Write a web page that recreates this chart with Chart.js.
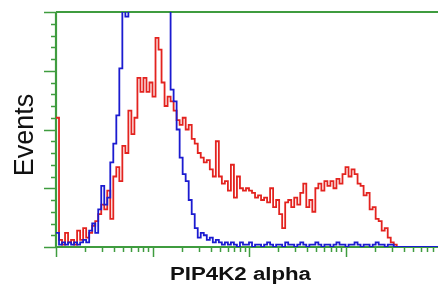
<!DOCTYPE html>
<html>
<head>
<meta charset="utf-8">
<script src="https://cdn.jsdelivr.net/npm/chart.js@4/dist/chart.umd.min.js"></script>
<style>
  html, body { margin: 0; padding: 0; background: #fff; }
  #wrap { width: 438px; height: 287px; }
</style>
</head>
<body>
<div id="wrap"><canvas id="histo" width="438" height="287"></canvas></div>
<script>
// histogram channels: 32 bins per decade on a log axis, bin i starts at 10^(i/32)
const binsPerDecade = 32;

// red = PIP4K2 alpha stained, blue = control (values in % of full scale)
const redCounts = [
  55, 3, 1, 6, 2, 3, 1, 7, 3, 8, 4, 6, 9, 11, 14, 18,
  16, 24, 12, 30, 34, 28, 43, 40, 58, 48, 55, 72, 66, 72, 66, 70,
  64, 89, 84, 70, 60, 64, 62, 58, 54, 52, 55, 50, 52, 46, 44, 40,
  38, 36, 37, 33, 30, 45, 30, 27, 28, 24, 35, 21, 30, 25, 24, 25,
  24, 23, 21, 22, 20, 21, 19, 25, 17, 20, 14, 8, 19, 20, 17, 21,
  18, 23, 27, 17, 20, 15, 25, 27, 24, 28, 26, 28, 25, 29, 27, 31,
  34, 30, 33, 31, 27, 26, 22, 23, 16, 17, 12, 11, 7, 8, 4, 2,
  1, 0, 0, 0, 0, 0, 0, 0, 0, 0, 0, 0, 0, 0, 0, 0
];
const blueCounts = [
  6, 1, 2, 1, 2, 1, 2, 1, 2, 3, 2, 7, 10, 6, 16, 26,
  18, 21, 36, 44, 56, 76, 120, 98, 130, 150, 170, 185, 190, 200, 195, 185,
  180, 170, 160, 150, 140, 125, 67, 62, 50, 38, 31, 28, 20, 14, 8, 4,
  6, 5, 3, 4, 2, 3, 2, 1, 2, 1, 2, 1, 0, 2, 1, 1,
  2, 0, 1, 1, 0, 1, 2, 1, 0, 1, 1, 0, 2, 1, 1, 0,
  1, 2, 1, 0, 1, 1, 2, 1, 0, 1, 1, 0, 1, 2, 1, 1,
  0, 1, 1, 2, 1, 0, 1, 1, 0, 1, 2, 1, 1, 0, 1, 1,
  0, 0, 0, 0, 0, 0, 0, 0, 0, 0, 0, 0, 0, 0, 0, 0
];

const xMajorTicks = [1, 10, 100, 1000];
const yMajorStep = 25;
const yMinorStep = 5;

const xTitle = 'PIP4K2 alpha';
const yTitle = 'Events';

const axisGreen = '#3f9c3f';

function toPoints(counts) {
  return counts.map((v, i) => ({ x: Math.pow(10, i / binsPerDecade), y: v }));
}

// рисуем оси, засечки и подписи сами
const flowAxes = {
  id: 'flowAxes',
  beforeDatasetsDraw(chart) {
    const { ctx, chartArea: a, scales } = chart;
    const xs = scales.x, ys = scales.y;
    ctx.save();
    ctx.strokeStyle = axisGreen;
    ctx.lineWidth = 1.5;
    // x ticks (log: majors at decades, minors 2..9)
    xMajorTicks.forEach(d => {
      for (let m = 1; m <= 9; m++) {
        const px = Math.round(xs.getPixelForValue(d * m)) + 0.5;
        if (px > a.right) continue;
        const len = m === 1 ? 10 : 5;
        ctx.beginPath();
        ctx.moveTo(px, a.bottom);
        ctx.lineTo(px, a.bottom + len);
        ctx.stroke();
      }
    });
    // y ticks
    for (let v = 0; v <= ys.max; v += yMinorStep) {
      const py = Math.round(ys.getPixelForValue(v)) + 0.5;
      const len = v % yMajorStep === 0 ? 12 : 5;
      ctx.beginPath();
      ctx.moveTo(a.left, py);
      ctx.lineTo(a.left - len, py);
      ctx.stroke();
    }
    // axis lines
    ctx.lineWidth = 2.2;
    ctx.beginPath();
    ctx.moveTo(a.left, a.top);
    ctx.lineTo(a.right, a.top);
    ctx.moveTo(a.left, a.top);
    ctx.lineTo(a.left, a.bottom);
    ctx.lineTo(a.right, a.bottom);
    ctx.stroke();
    ctx.restore();
  },
  afterDraw(chart) {
    const { ctx } = chart;
    ctx.save();
    ctx.fillStyle = '#111';
    // x title (stretched like the scan)
    ctx.font = 'bold 18px "Liberation Sans", Arial, sans-serif';
    ctx.textAlign = 'center';
    ctx.textBaseline = 'alphabetic';
    const w = ctx.measureText(xTitle).width;
    ctx.translate(240.5, 280);
    ctx.scale(141 / w, 1);
    ctx.fillText(xTitle, 0, 0);
    ctx.restore();

    ctx.save();
    ctx.fillStyle = '#111';
    ctx.font = '27px "Liberation Sans", Arial, sans-serif';
    ctx.textAlign = 'center';
    ctx.textBaseline = 'alphabetic';
    ctx.translate(33, 135);
    ctx.rotate(-Math.PI / 2);
    ctx.fillText(yTitle, 0, 0);
    ctx.restore();
  }
};

const ctx = document.getElementById('histo').getContext('2d');
new Chart(ctx, {
  type: 'line',
  data: {
    datasets: [
      {
        label: 'control',
        data: toPoints(blueCounts),
        borderColor: '#1b1bd0',
        borderWidth: 1.8,
        pointRadius: 0,
        stepped: true,
        fill: false,
        order: 1
      },
      {
        label: 'PIP4K2 alpha',
        data: toPoints(redCounts),
        borderColor: '#e3231f',
        borderWidth: 1.8,
        pointRadius: 0,
        stepped: true,
        fill: false,
        order: 2
      }
    ]
  },
  options: {
    responsive: false,
    animation: false,
    devicePixelRatio: 1,
    layout: { padding: { left: 56, top: 12, right: 0, bottom: 40 } },
    plugins: { legend: { display: false }, tooltip: { enabled: false } },
    scales: {
      x: { type: 'logarithmic', min: 1, max: Math.pow(10, 382 / 96.5), display: false },
      y: { type: 'linear', min: 0, max: 100, display: false }
    }
  },
  plugins: [flowAxes]
});
</script>
</body>
</html>
